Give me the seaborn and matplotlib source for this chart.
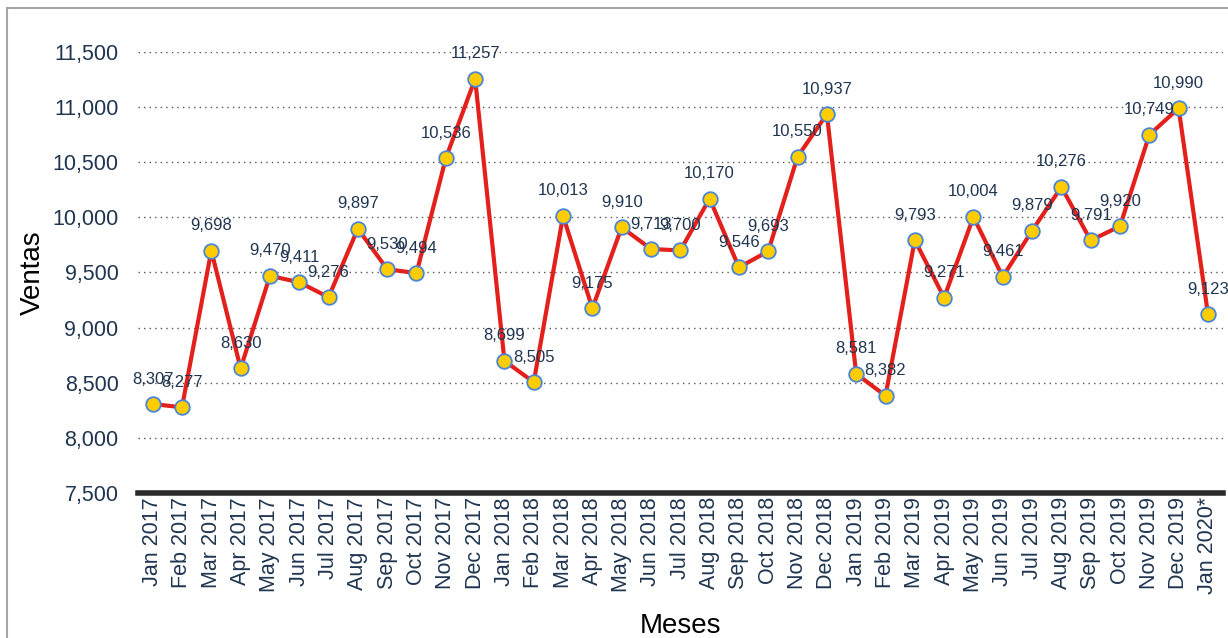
import pandas as pd
import matplotlib.pyplot as plt
import seaborn as sns
from matplotlib.patches import Rectangle

# Monthly sales values
meses = ['Jan 2017', 'Feb 2017', 'Mar 2017', 'Apr 2017', 'May 2017', 'Jun 2017',
         'Jul 2017', 'Aug 2017', 'Sep 2017', 'Oct 2017', 'Nov 2017', 'Dec 2017',
         'Jan 2018', 'Feb 2018', 'Mar 2018', 'Apr 2018', 'May 2018', 'Jun 2018',
         'Jul 2018', 'Aug 2018', 'Sep 2018', 'Oct 2018', 'Nov 2018', 'Dec 2018',
         'Jan 2019', 'Feb 2019', 'Mar 2019', 'Apr 2019', 'May 2019', 'Jun 2019',
         'Jul 2019', 'Aug 2019', 'Sep 2019', 'Oct 2019', 'Nov 2019', 'Dec 2019',
         'Jan 2020*']
ventas = [8307, 8277, 9698, 8630, 9470, 9411, 9276, 9897, 9530, 9494, 10536, 11257,
          8699, 8505, 10013, 9175, 9910, 9713, 9700, 10170, 9546, 9693, 10550, 10937,
          8581, 8382, 9793, 9271, 10004, 9461, 9879, 10276, 9791, 9920, 10749, 10990,
          9123]
yticks = [7500, 8000, 8500, 9000, 9500, 10000, 10500, 11000, 11500]

data = pd.DataFrame({'pos': range(len(meses)), 'Mes': meses, 'Ventas': ventas})

sns.set_theme(style='white')
plt.rcParams['font.family'] = ['Liberation Sans', 'DejaVu Sans']

navy = '#1F3550'
fig = plt.figure(figsize=(12.28, 6.38), dpi=100)
ax = fig.add_axes([0.1124, 0.2273, 0.8832, 0.6912])

sns.lineplot(data=data, x='pos', y='Ventas', ax=ax, sort=False,
             color='#E3201B', linewidth=3, marker='o', markersize=10.5,
             markerfacecolor='#FFCC00', markeredgecolor='#4A86D8',
             markeredgewidth=1.3, zorder=3)

# data labels above each point
for x, y in zip(data['pos'], data['Ventas']):
    ax.annotate(f'{y:,}', (x, y), xytext=(0, 18), textcoords='offset points',
                ha='center', va='center', fontsize=12, color=navy, zorder=4)

ax.set_xlim(-0.5, len(meses) - 0.5)
ax.set_ylim(7500, 11500)
ax.set_yticks(yticks)
ax.set_yticklabels([f'{v:,}' for v in yticks], fontsize=15.5, color=navy)
ax.set_xticks(data['pos'])
ax.set_xticklabels(meses, rotation=90, fontsize=15.5, color=navy)
ax.tick_params(axis='y', length=0, pad=14)
ax.tick_params(axis='x', length=0, pad=3)

for v in yticks[1:]:
    ax.axhline(v, color='#555555', linestyle=(0, (1, 3)), linewidth=1, zorder=1)

for side in ['top', 'right', 'left']:
    ax.spines[side].set_visible(False)
ax.spines['bottom'].set_color('#2B2B2B')
ax.spines['bottom'].set_linewidth(4)

ax.set_xlabel('Meses', fontsize=20, color='black')
ax.set_ylabel('Ventas', fontsize=20, color='black')
ax.xaxis.set_label_coords(0.5, -0.272)
ax.yaxis.set_label_coords(-0.085, 0.5)

# outer frame of the picture
fig.patches.append(Rectangle((7 / 1228, -0.2), 2, 1 - 8 / 638 + 0.2,
                             transform=fig.transFigure, fill=False,
                             edgecolor='#A6A6A6', linewidth=1.5))

fig.savefig('out.png', dpi=100)
